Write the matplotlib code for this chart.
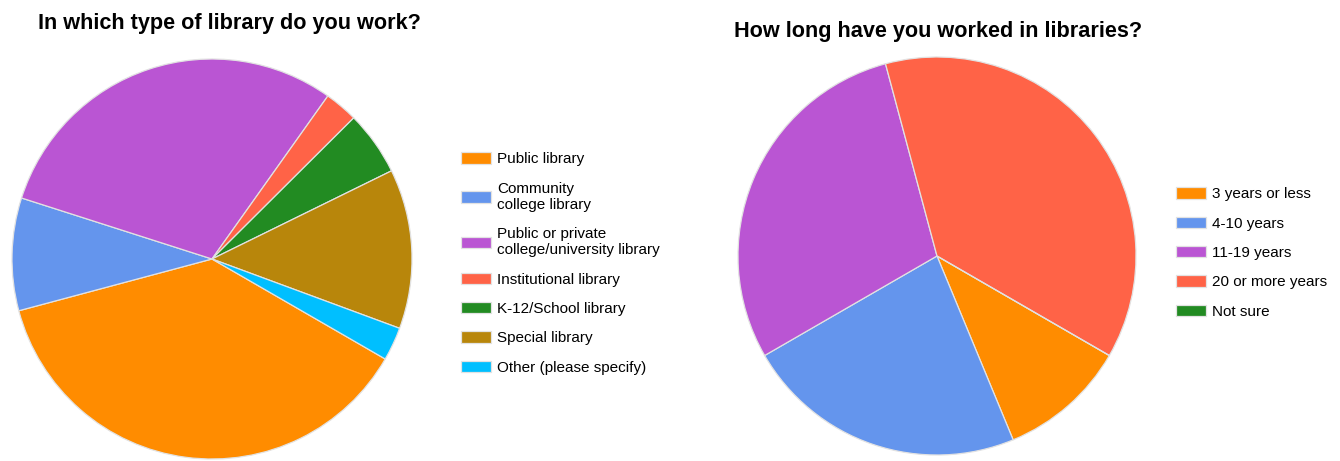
import matplotlib
matplotlib.use("Agg")
import matplotlib.pyplot as plt

# DATA
# -----------------------------------------------

type_labels = [
    "Public library",
    "Community\ncollege library",
    "Public or private\ncollege/university library",
    "Institutional library",
    "K-12/School library",
    "Special library",
    "Other (please specify)",
]
type_share = [37.5, 9.1, 29.9, 2.7, 5.2, 12.9, 2.7]

years_labels = ["3 years or less", "4-10 years", "11-19 years", "20 or more years", "Not sure"]
years_count = [5, 11, 14, 18, 0]

type_colors = ["#FF8C00", "#6495ED", "#BA55D3", "#FF6347", "#228B22", "#B8860B", "#00BFFF"]
years_colors = ["#FF8C00", "#6495ED", "#BA55D3", "#FF6347", "#228B22"]

W, H = 1340, 461

plt.rcParams["font.family"] = ["Liberation Sans", "DejaVu Sans"]


def px_axes(fig, cx, cy, r):
    # axes square around a pie centre given in pixels from the top left
    return fig.add_axes([(cx - r) / W, (H - cy - r) / H, 2 * r / W, 2 * r / H])


def draw_pie(ax, values, colors):
    wedges, _ = ax.pie(
        values,
        colors=colors,
        startangle=-30,
        counterclock=False,
        radius=1,
        wedgeprops=dict(edgecolor="#e2e2e2", linewidth=0.9),
    )
    ax.set_xlim(-1.005, 1.005)
    ax.set_ylim(-1.005, 1.005)
    ax.set_aspect("equal")
    ax.axis("off")
    return wedges


def add_legend(fig, wedges, labels, x, cy):
    fig.legend(
        wedges,
        labels,
        loc="center left",
        bbox_to_anchor=(x / W, 1 - cy / H),
        bbox_transform=fig.transFigure,
        frameon=False,
        fontsize=11,
        handlelength=1.95,
        handleheight=0.78,
        handletextpad=0.4,
        labelspacing=1.0,
        borderpad=0,
        borderaxespad=0,
    )


# PLOTTING
# -----------------------------------------------

fig = plt.figure(figsize=(W / 100, H / 100), dpi=100)

ax1 = px_axes(fig, 212, 259, 201)
w1 = draw_pie(ax1, type_share, type_colors)
add_legend(fig, w1, type_labels, 461, 263.5)
fig.text(229.5 / W, 1 - 23 / H, "In which type of library do you work?",
         ha="center", va="center", fontsize=15.6, fontweight="bold")

ax2 = px_axes(fig, 937, 256, 200)
w2 = draw_pie(ax2, years_count, years_colors)
add_legend(fig, w2, years_labels, 1176, 253)
fig.text(938.5 / W, 1 - 31.7 / H, "How long have you worked in libraries?",
         ha="center", va="center", fontsize=15.6, fontweight="bold")

fig.savefig("out.png", dpi=100)
